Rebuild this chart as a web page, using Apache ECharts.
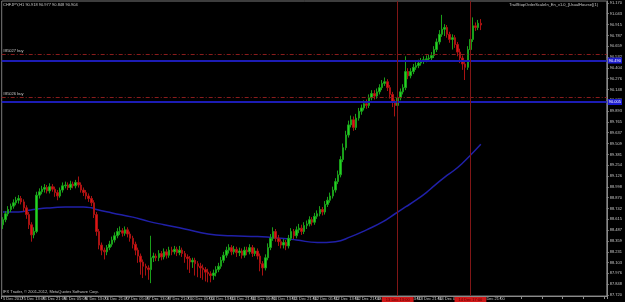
<!DOCTYPE html>
<html><head><meta charset="utf-8">
<script src="https://cdn.jsdelivr.net/npm/echarts@6/dist/echarts.min.js"></script>
<style>html,body{margin:0;padding:0;background:#000}#c{width:625px;height:302px}</style>
</head><body><div id="c"></div>
<script>
const headerText = 'CHFJPY,H1 90.918 90.977 90.848 90.904';
const expertText = 'TrailStopOrderScaleIn_En_v1.0_[UsualHourse](1)';
const footerText = 'IFX Trader, \u00a9 2001-2012, MetaQuotes Software Corp.';
const totalSlots = 233;
const xTickLabels = ['5 Dec 2012','5 Dec 13:00','5 Dec 21:00','6 Dec 05:00','6 Dec 13:00','6 Dec 21:00','7 Dec 05:00','7 Dec 13:00','7 Dec 21:00','10 Dec 05:00','10 Dec 13:00','10 Dec 21:00','11 Dec 05:00','11 Dec 13:00','11 Dec 21:00','12 Dec 05:00','12 Dec 13:00','12 Dec 21:00','13 Dec 05:00','13 Dec 13:00','13 Dec 21:00','14 Dec 05:00','14 Dec 13:00','14 Dec 21:00'];
const yTickValues = [87.720,87.848,87.976,88.103,88.231,88.359,88.487,88.615,88.742,88.870,88.998,89.126,89.254,89.381,89.509,89.637,89.765,89.893,90.020,90.148,90.276,90.404,90.532,90.659,90.787,90.915,91.043,91.170];

const opens = [88.55,88.61,88.68,88.73,88.77,88.81,88.84,88.86,88.82,88.75,
88.67,88.55,88.43,88.47,88.90,88.94,88.97,88.99,88.95,89.00,
88.97,88.93,88.89,88.96,89.01,89.02,88.99,89.03,89.01,89.05,
89.02,88.96,88.93,88.89,88.86,88.81,88.67,88.47,88.31,88.25,
88.23,88.28,88.32,88.37,88.42,88.47,88.48,88.45,88.49,88.44,
88.39,88.32,88.25,88.18,88.11,88.06,88.04,88.02,88.16,88.18,
88.16,88.21,88.17,88.23,88.19,88.25,88.23,88.26,88.22,88.25,
88.21,88.17,88.15,88.11,88.13,88.09,88.06,88.04,88.02,87.99,
87.97,87.95,87.98,88.02,88.06,88.13,88.19,88.25,88.28,88.23,
88.26,88.22,88.24,88.19,88.25,88.23,88.28,88.21,88.24,88.18,
88.09,88.04,88.16,88.28,88.39,88.47,88.39,88.35,88.31,88.34,
88.30,88.39,88.47,88.42,88.49,88.51,88.47,88.54,88.56,88.61,
88.58,88.65,88.68,88.73,88.70,88.79,88.84,88.89,88.96,89.06,
89.14,89.32,89.46,89.61,89.73,89.79,89.70,89.81,89.89,89.93,
89.98,89.96,90.05,90.10,90.07,90.12,90.17,90.22,90.24,90.17,
90.09,90.00,89.96,90.05,90.12,90.17,90.36,90.31,90.36,90.41,
90.43,90.46,90.48,90.50,90.51,90.52,90.55,90.62,90.71,90.80,
90.86,90.88,90.80,90.74,90.76,90.68,90.59,90.52,90.45,90.41,
90.62,90.74,90.90,90.88,90.93];
const closes = [88.61,88.68,88.73,88.77,88.81,88.84,88.86,88.82,88.75,88.67,
88.55,88.43,88.47,88.90,88.94,88.97,88.99,88.95,89.00,88.97,
88.93,88.89,88.96,89.01,89.02,88.99,89.03,89.01,89.05,89.02,
88.96,88.93,88.89,88.86,88.81,88.67,88.47,88.31,88.25,88.23,
88.28,88.32,88.37,88.42,88.47,88.48,88.45,88.49,88.44,88.39,
88.32,88.25,88.18,88.11,88.06,88.04,88.02,88.16,88.18,88.16,
88.21,88.17,88.23,88.19,88.25,88.23,88.26,88.22,88.25,88.21,
88.17,88.15,88.11,88.13,88.09,88.06,88.04,88.02,87.99,87.97,
87.95,87.98,88.02,88.06,88.13,88.19,88.25,88.28,88.23,88.26,
88.22,88.24,88.19,88.25,88.23,88.28,88.21,88.24,88.18,88.09,
88.04,88.16,88.28,88.39,88.47,88.39,88.35,88.31,88.34,88.30,
88.39,88.47,88.42,88.49,88.51,88.47,88.54,88.56,88.61,88.58,
88.65,88.68,88.73,88.70,88.79,88.84,88.89,88.96,89.06,89.14,
89.32,89.46,89.61,89.73,89.79,89.70,89.81,89.89,89.93,89.98,
89.96,90.05,90.10,90.07,90.12,90.17,90.22,90.24,90.17,90.09,
90.00,89.96,90.05,90.12,90.17,90.36,90.31,90.36,90.41,90.43,
90.46,90.48,90.50,90.51,90.52,90.55,90.62,90.71,90.80,90.86,
90.88,90.80,90.74,90.76,90.68,90.59,90.52,90.45,90.41,90.62,
90.74,90.90,90.88,90.93,90.91];
const lows = [88.50,88.58,88.65,88.70,88.74,88.78,88.80,88.79,88.71,88.62,
88.50,88.35,88.39,88.45,88.86,88.91,88.93,88.92,88.92,88.94,
88.88,88.84,88.87,88.93,88.98,88.96,88.96,88.98,88.98,88.99,
88.93,88.89,88.85,88.82,88.77,88.63,88.42,88.26,88.19,88.14,
88.19,88.25,88.29,88.34,88.39,88.43,88.41,88.42,88.40,88.35,
88.27,88.19,88.10,87.96,87.92,87.95,87.90,87.86,88.11,88.12,
88.12,88.13,88.14,88.15,88.16,88.19,88.20,88.18,88.19,88.17,
88.10,88.02,87.98,88.04,87.95,87.93,87.92,87.90,87.88,87.87,
87.87,87.90,87.94,87.99,88.03,88.10,88.16,88.21,88.19,88.20,
88.17,88.18,88.15,88.16,88.19,88.20,88.17,88.18,88.14,88.00,
87.95,88.01,88.13,88.25,88.36,88.35,88.30,88.27,88.27,88.25,
88.27,88.36,88.38,88.39,88.45,88.43,88.44,88.50,88.53,88.54,
88.55,88.62,88.65,88.66,88.67,88.76,88.81,88.86,88.93,89.03,
89.11,89.29,89.43,89.58,89.70,89.66,89.67,89.78,89.85,89.90,
89.92,89.93,90.02,90.03,90.04,90.09,90.14,90.19,90.13,90.04,
89.94,89.83,89.93,90.02,90.09,90.14,90.27,90.28,90.33,90.38,
90.40,90.43,90.45,90.47,90.48,90.49,90.52,90.59,90.68,90.77,
90.78,90.76,90.70,90.62,90.64,90.54,90.46,90.38,90.26,90.38,
90.59,90.71,90.84,90.85,90.85];
const highs = [88.64,88.71,88.77,88.80,88.85,88.88,88.90,88.89,88.85,88.78,
88.70,88.58,88.52,88.94,88.98,89.01,89.03,89.02,89.04,89.03,
89.00,88.96,88.99,89.05,89.06,89.05,89.07,89.06,89.08,89.12,
89.05,88.99,88.96,88.92,88.89,88.84,88.70,88.50,88.34,88.28,
88.31,88.36,88.41,88.46,88.51,88.53,88.51,88.53,88.52,88.47,
88.42,88.35,88.28,88.21,88.14,88.09,88.07,88.42,88.22,88.21,
88.25,88.24,88.27,88.26,88.29,88.29,88.30,88.29,88.30,88.28,
88.24,88.20,88.18,88.16,88.16,88.12,88.10,88.08,88.05,88.03,
88.00,88.02,88.06,88.10,88.17,88.23,88.29,88.32,88.31,88.30,
88.29,88.28,88.27,88.29,88.29,88.32,88.31,88.28,88.27,88.21,
88.12,88.20,88.33,88.44,88.52,88.50,88.43,88.38,88.38,88.37,
88.43,88.51,88.50,88.53,88.56,88.55,88.58,88.60,88.65,88.64,
88.69,88.72,88.77,88.76,88.83,88.88,88.93,89.00,89.10,89.19,
89.36,89.51,89.66,89.78,89.84,89.83,89.86,89.93,89.97,90.02,
90.03,90.09,90.14,90.14,90.16,90.21,90.26,90.29,90.27,90.20,
90.12,90.03,90.09,90.16,90.21,90.54,90.40,90.40,90.45,90.47,
90.50,90.52,90.54,90.55,90.56,90.59,90.66,90.75,90.85,91.03,
90.92,90.91,90.83,90.80,90.79,90.71,90.63,90.55,90.49,90.66,
90.78,91.00,90.94,90.97,90.98];

const maBars =   [0,6,10,14,19,24,31,34,36,42,50,56,62,70,79,88,98,107,113,121,128,134,140,146,151,155,159,163,166,170,174,177,180,184];
const maValues = [88.70,88.70,88.72,88.74,88.75,88.76,88.76,88.75,88.73,88.69,88.64,88.59,88.55,88.50,88.44,88.42,88.41,88.39,88.37,88.34,88.35,88.41,88.49,88.58,88.68,88.76,88.84,88.93,89.01,89.11,89.20,89.28,89.37,89.50];

const buyLevels = [90.490, 90.005];
const buyDashLevels = [90.572, 90.063];
const buyLabels = ['#85027 buy', '#85026 buy'];
const markerBars = [152, 180];
const markerLabels = ['13 Dec 13:00', '14 Dec 17:00'];
const bidPrice = 90.904;

const categories = [];
for (let i = 0; i < totalSlots; i++) categories.push(String(i));
const candleData = opens.map((o, i) => [o, closes[i], lows[i], highs[i]]);
const maData = maBars.map((b, i) => [b, maValues[i]]);

const FONT = 'Liberation Sans';
const txt = {fontSize: 4, color: '#c8c8c8', fontFamily: FONT, fontWeight: 'normal'};

const markData = [];
buyDashLevels.forEach((v, i) => markData.push({
  yAxis: v,
  lineStyle: {color: '#8a1c1c', width: 1, type: [4, 2, 1, 2]},
  label: {show: true, position: 'insideStartTop', formatter: buyLabels[i], fontSize: 4, color: '#c8c8c8', fontFamily: FONT, distance: 1}
}));
buyLevels.forEach(v => markData.push({
  yAxis: v,
  lineStyle: {color: '#1c1cb4', width: 2, type: 'solid'},
  label: {show: true, position: 'end', formatter: v.toFixed(3), fontSize: 4, color: '#ffffff', backgroundColor: '#1c1cd0', padding: [1, 1], distance: 1, fontFamily: FONT}
}));
markerBars.forEach((b, i) => markData.push({
  xAxis: String(b),
  lineStyle: {color: '#801616', width: 1, type: 'solid'},
  label: {show: true, position: 'start', formatter: markerLabels[i], fontSize: 4, color: '#5a0000', backgroundColor: '#d01818', padding: [1, 4], distance: 1, fontFamily: FONT}
}));
markData.push({
  yAxis: bidPrice,
  lineStyle: {opacity: 0},
  label: {show: true, position: 'end', formatter: bidPrice.toFixed(3), fontSize: 4, color: '#000000', backgroundColor: '#ffffff', padding: [1, 1], distance: 1, fontFamily: FONT}
});

const chart = echarts.init(document.getElementById('c'), null, {renderer: 'canvas'});
chart.setOption({
  backgroundColor: '#000000',
  animation: false,
  title: [
    {text: headerText, left: 3, top: 3, padding: 0, textStyle: txt},
    {text: expertText, right: 27, top: 3, padding: 0, textStyle: txt},
    {text: footerText, left: 3, top: 290, padding: 0, textStyle: txt}
  ],
  grid: {left: 1, right: 13, top: 1, bottom: 6, show: true, borderColor: '#7a7a7a', borderWidth: 1, backgroundColor: 'transparent'},
  xAxis: {
    type: 'category', data: categories, boundaryGap: true,
    axisLine: {show: true, lineStyle: {color: '#8a8a8a', width: 1}},
    axisTick: {show: true, interval: 7, length: 3, lineStyle: {color: '#8a8a8a'}},
    axisLabel: {interval: 7, align: 'left', margin: 1, fontSize: 4, color: '#c8c8c8', fontFamily: FONT,
      formatter: (v, idx) => xTickLabels[idx / 8] || ''},
    splitLine: {show: false}
  },
  yAxis: {
    type: 'value', position: 'right', min: 87.7082, max: 91.1936,
    axisLine: {show: true, lineStyle: {color: '#8a8a8a', width: 1}},
    axisTick: {show: true, length: 2, customValues: yTickValues, lineStyle: {color: '#8a8a8a'}},
    axisLabel: {customValues: yTickValues, formatter: v => v.toFixed(3), margin: 3, fontSize: 4, color: '#c8c8c8', fontFamily: FONT},
    splitLine: {show: false}
  },
  series: [
    {
      type: 'candlestick', data: candleData, barWidth: 2,
      itemStyle: {color: '#22d622', color0: '#e01414', borderColor: '#1a9e1a', borderColor0: '#a81212', borderWidth: 1},
      markLine: {symbol: ['none', 'none'], silent: true, animation: false, data: markData}
    },
    {
      type: 'line', data: maData, connectNulls: true, smooth: true, showSymbol: false,
      lineStyle: {color: '#2020a8', width: 1.5}, z: 1
    }
  ]
});
</script></body></html>
